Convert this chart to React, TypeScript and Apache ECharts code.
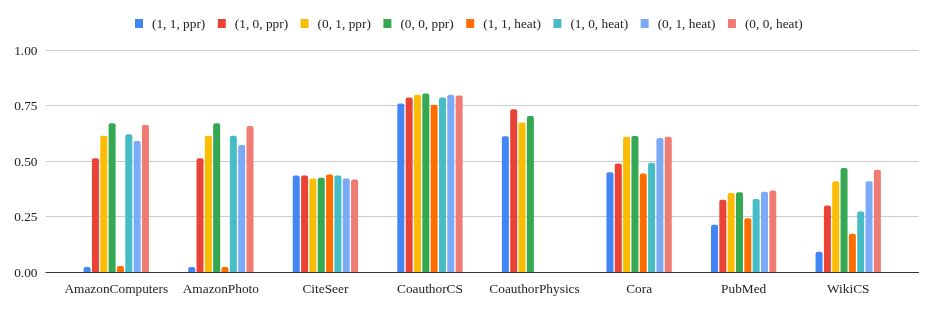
import React, { useEffect, useRef } from "react";
import * as echarts from "echarts";

const categories = ["AmazonComputers", "AmazonPhoto", "CiteSeer", "CoauthorCS", "CoauthorPhysics", "Cora", "PubMed", "WikiCS"];
const seriesNames = ["(1, 1, ppr)", "(1, 0, ppr)", "(0, 1, ppr)", "(0, 0, ppr)", "(1, 1, heat)", "(1, 0, heat)", "(0, 1, heat)", "(0, 0, heat)"];
const colors = ["#4285F4", "#EA4335", "#FBBC04", "#34A853", "#FF6D01", "#46BDC6", "#7BAAF7", "#F07B72"];

const s11ppr = [0.022, 0.022, 0.435, 0.759, 0.612, 0.449, 0.213, 0.091];
const s10ppr = [0.512, 0.512, 0.435, 0.786, 0.733, 0.489, 0.326, 0.299];
const s01ppr = [0.614, 0.614, 0.421, 0.798, 0.673, 0.609, 0.356, 0.409];
const s00ppr = [0.67, 0.67, 0.424, 0.804, 0.703, 0.613, 0.359, 0.469];
const s11heat = [0.027, 0.022, 0.439, 0.753, null, 0.444, 0.242, 0.172];
const s10heat = [0.62, 0.614, 0.435, 0.786, null, 0.492, 0.329, 0.272];
const s01heat = [0.59, 0.572, 0.421, 0.798, null, 0.604, 0.362, 0.409];
const s00heat = [0.662, 0.658, 0.417, 0.795, null, 0.609, 0.367, 0.461];

const seriesData = [s11ppr, s10ppr, s01ppr, s00ppr, s11heat, s10heat, s01heat, s00heat];
const yTicks = [0, 0.25, 0.5, 0.75, 1.0];

export default function App() {
  const ref = useRef<HTMLDivElement>(null);
  useEffect(() => {
    if (!ref.current) return;
    const chart = echarts.init(ref.current, undefined, { renderer: "svg" });
    const font = "Liberation Serif";
    const fs = 13.33;
    const yMin = yTicks[0];
    const yMax = yTicks[yTicks.length - 1];
    chart.setOption({
      animation: false,
      color: colors,
      textStyle: { fontFamily: font },
      legend: {
        top: 12,
        left: 130,
        itemWidth: 8,
        itemHeight: 9,
        itemGap: 12.5,
        icon: "rect",
        textStyle: { fontFamily: font, fontSize: fs, color: "#222", padding: [0, 0, 0, 4] },
        data: seriesNames,
      },
      grid: [
        { left: 46, right: 15.5, top: 50, bottom: 39 },
        { left: 64, right: 33.5, top: 50, bottom: 39 },
      ],
      xAxis: [
        {
          type: "value",
          gridIndex: 0,
          min: 0,
          max: 1,
          axisLabel: { show: false },
          axisTick: { show: false },
          splitLine: { show: false },
          axisLine: { show: true, onZero: false, lineStyle: { color: "#333", width: 1 } },
        },
        {
          type: "category",
          gridIndex: 1,
          data: categories,
          axisTick: { show: false },
          axisLine: { show: false },
          axisLabel: { fontFamily: font, fontSize: fs, color: "#222", margin: 10, interval: 0 },
        },
      ],
      yAxis: [
        {
          type: "value",
          gridIndex: 0,
          min: yMin,
          max: yMax,
          interval: 0.25,
          axisLine: { show: false },
          axisTick: { show: false },
          splitLine: { lineStyle: { color: "#cccccc" } },
          axisLabel: {
            fontFamily: font,
            fontSize: fs,
            color: "#222",
            margin: 8.5,
            formatter: (v: number) => v.toFixed(2),
          },
        },
        {
          type: "value",
          gridIndex: 1,
          min: yMin,
          max: yMax,
          interval: 0.25,
          show: false,
          splitLine: { show: false },
        },
      ],
      series: seriesNames.map((name, i) => ({
        name,
        type: "bar",
        xAxisIndex: 1,
        yAxisIndex: 1,
        data: seriesData[i],
        barWidth: 7,
        barGap: "19%",
        itemStyle: { color: colors[i], borderRadius: [2, 2, 0, 0] },
      })),
    });
    return () => chart.dispose();
  }, []);
  return <div ref={ref} style={{ position: "fixed", left: 0, top: 0, width: 934, height: 311 }} />;
}
